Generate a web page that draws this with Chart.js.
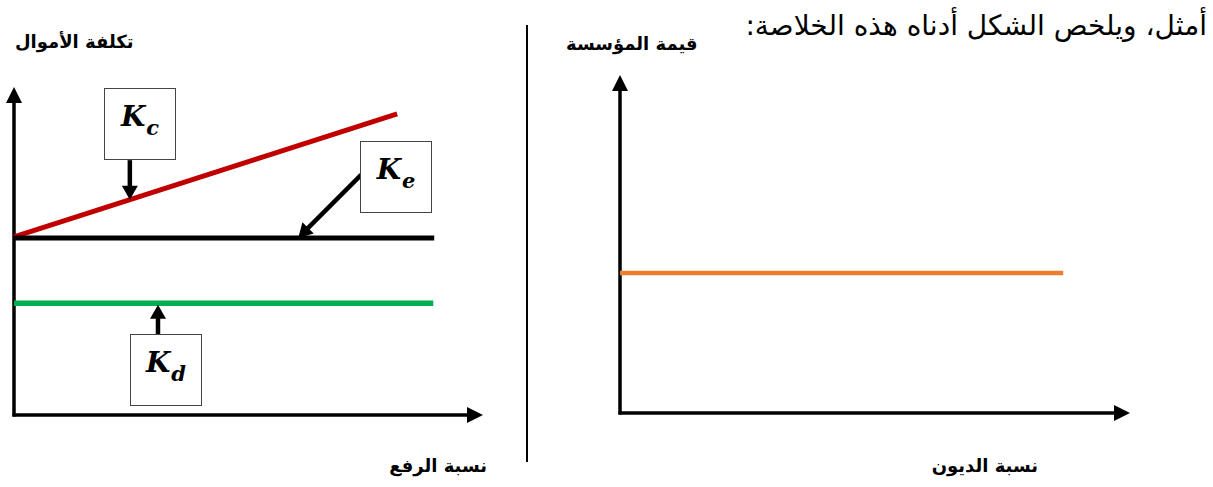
<!DOCTYPE html>
<html lang="ar">
<head>
    <meta charset="UTF-8">
    <title>تكلفة الأموال وقيمة المؤسسة</title>
    <script src="https://cdn.jsdelivr.net/npm/chart.js"></script>
    <style>
        body {
            margin: 0;
            background: #fff;
            width: 1213px;
            height: 487px;
            position: relative;
            overflow: hidden;
            font-family: 'DejaVu Sans', sans-serif;
        }
        canvas { position: absolute; top: 0; }
        .txt {
            position: absolute;
            white-space: nowrap;
            direction: rtl;
            color: #000;
        }
        .axis-title { font-weight: bold; font-size: 18px; }
        .lead { font-size: 28px; }
        .box {
            position: absolute;
            width: 70px;
            height: 70px;
            border: 1px solid #444;
            background: #fff;
            box-sizing: content-box;
            font-family: 'DejaVu Serif', serif;
            font-weight: bold;
            font-style: italic;
            font-size: 28px;
            display: flex;
            align-items: center;
            justify-content: center;
        }
        .box span { position: relative; top: -4px; }
        .box sub { font-size: 21px; vertical-align: -9px; margin-left: 1px; }
        .divider {
            position: absolute;
            left: 526px;
            top: 25px;
            width: 2px;
            height: 437px;
            background: #000;
        }
    </style>
</head>
<body>

    <div class="txt lead" style="right:6px; top:9px;">أمثل، ويلخص الشكل أدناه هذه الخلاصة:</div>

    <!-- left panel: cost of capital vs leverage -->
    <div class="txt axis-title" style="left:15px; top:31px;">تكلفة الأموال</div>
    <div class="txt axis-title" style="right:726px; top:455px;">نسبة الرفع</div>
    <canvas id="costChart" width="527" height="487" style="left:0;"></canvas>
    <div class="box" style="left:104px; top:88px;"><span>K<sub>c</sub></span></div>
    <div class="box" style="left:360px; top:141px;"><span>K<sub>e</sub></span></div>
    <div class="box" style="left:130px; top:334px;"><span>K<sub>d</sub></span></div>

    <div class="divider"></div>

    <!-- right panel: firm value vs debt ratio -->
    <div class="txt axis-title" style="left:566px; top:33px;">قيمة المؤسسة</div>
    <div class="txt axis-title" style="right:175px; top:455px;">نسبة الديون</div>
    <canvas id="valueChart" width="686" height="487" style="left:527px;"></canvas>

    <script>
        // leverage / debt ratio (x) and cost / value (y), on a 0-100 scale
        const kcX = [0, 81.7];
        const kcY = [54.3, 91.8];
        const keX = [0, 89.6];
        const keY = [54.0, 54.0];
        const kdX = [0, 89.4];
        const kdY = [34.1, 34.1];
        const debtX = [0, 86.9];
        const valueY = [41.4, 41.4];

        // arrows from the label boxes to the curves (data coordinates)
        const costArrows = [
            { from: [24.7, 77.7], to: [24.7, 65.6] },   // Kc
            { from: [74.0, 73.2], to: [60.6, 54.0] },   // Ke
            { from: [30.7, 24.7], to: [30.7, 33.6] }    // Kd
        ];

        function pts(xs, ys) {
            return xs.map((x, i) => ({ x: x, y: ys[i] }));
        }

        function drawHead(ctx, x0, y0, x1, y1, len, half) {
            const a = Math.atan2(y1 - y0, x1 - x0);
            ctx.beginPath();
            ctx.moveTo(x1, y1);
            ctx.lineTo(x1 - len * Math.cos(a) + half * Math.sin(a), y1 - len * Math.sin(a) - half * Math.cos(a));
            ctx.lineTo(x1 - len * Math.cos(a) - half * Math.sin(a), y1 - len * Math.sin(a) + half * Math.cos(a));
            ctx.closePath();
            ctx.fill();
        }

        function drawArrow(ctx, x0, y0, x1, y1, width, len, half) {
            const a = Math.atan2(y1 - y0, x1 - x0);
            ctx.lineWidth = width;
            ctx.beginPath();
            ctx.moveTo(x0, y0);
            ctx.lineTo(x1 - (len - 2) * Math.cos(a), y1 - (len - 2) * Math.sin(a));
            ctx.stroke();
            drawHead(ctx, x0, y0, x1, y1, len, half);
        }

        // axes with arrow heads, drawn under the lines
        const arrowAxes = {
            id: 'arrowAxes',
            beforeDatasetsDraw(chart) {
                const { ctx, chartArea: a } = chart;
                ctx.save();
                ctx.strokeStyle = '#000';
                ctx.fillStyle = '#000';
                ctx.lineCap = 'butt';
                drawArrow(ctx, a.left, a.bottom + 1.5, a.left, a.top, 3.5, 16, 8);
                drawArrow(ctx, a.left - 1.5, a.bottom, a.right, a.bottom, 3.5, 16, 8);
                ctx.restore();
            },
            afterDatasetsDraw(chart, args, opts) {
                const list = opts.arrows || [];
                if (!list.length) return;
                const { ctx, scales: { x, y } } = chart;
                ctx.save();
                ctx.strokeStyle = '#000';
                ctx.fillStyle = '#000';
                list.forEach(ar => {
                    drawArrow(ctx,
                        x.getPixelForValue(ar.from[0]), y.getPixelForValue(ar.from[1]),
                        x.getPixelForValue(ar.to[0]), y.getPixelForValue(ar.to[1]),
                        4.5, 14, 8);
                });
                ctx.restore();
            }
        };

        const hiddenScales = {
            x: { type: 'linear', min: 0, max: 100, display: false },
            y: { type: 'linear', min: 0, max: 100, display: false }
        };

        new Chart(document.getElementById('costChart'), {
            type: 'line',
            data: {
                datasets: [
                    { label: 'Ke', data: pts(keX, keY), borderColor: '#000000', borderWidth: 5 },
                    { label: 'Kc', data: pts(kcX, kcY), borderColor: '#C00000', borderWidth: 5 },
                    { label: 'Kd', data: pts(kdX, kdY), borderColor: '#00B050', borderWidth: 5.5 }
                ]
            },
            options: {
                responsive: false,
                animation: false,
                layout: { padding: { left: 14, top: 87, right: 44, bottom: 72 } },
                elements: { point: { radius: 0 }, line: { tension: 0 } },
                datasets: { line: { clip: false } },
                scales: hiddenScales,
                plugins: {
                    legend: { display: false },
                    tooltip: { enabled: false },
                    arrowAxes: { arrows: costArrows }
                }
            },
            plugins: [arrowAxes]
        });

        new Chart(document.getElementById('valueChart'), {
            type: 'line',
            data: {
                datasets: [
                    { label: 'V', data: pts(debtX, valueY), borderColor: '#ED7D31', borderWidth: 4.5 }
                ]
            },
            options: {
                responsive: false,
                animation: false,
                layout: { padding: { left: 93, top: 75, right: 83, bottom: 74 } },
                elements: { point: { radius: 0 }, line: { tension: 0 } },
                datasets: { line: { clip: false } },
                scales: hiddenScales,
                plugins: {
                    legend: { display: false },
                    tooltip: { enabled: false },
                    arrowAxes: { arrows: [] }
                }
            },
            plugins: [arrowAxes]
        });
    </script>
</body>
</html>
